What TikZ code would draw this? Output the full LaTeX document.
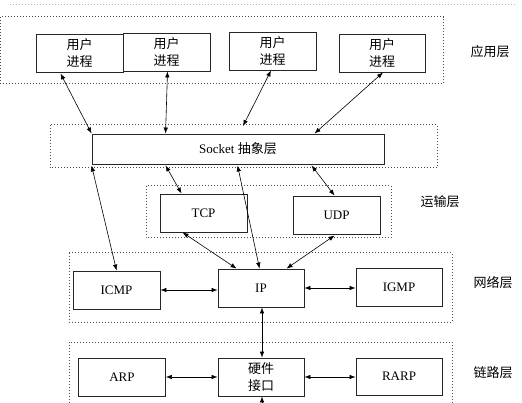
\documentclass[tikz,border=0pt]{standalone}
\usepackage{fontspec}
\setmainfont{Liberation Serif}
\newfontfamily\cjk{Noto Sans CJK SC}
\usetikzlibrary{arrows.meta,calc}
\tikzset{
  box/.style={draw=black!85,line width=0.9pt,rectangle,minimum width=87pt,minimum height=38pt,inner sep=0pt,align=center,font=\fontsize{13}{17}\selectfont},
  frame/.style={draw=black!70,line width=1pt,dash pattern=on 1pt off 2pt},
  conn/.style={line width=0.6pt,{Latex[length=6pt,width=4.5pt]}-{Latex[length=6pt,width=4.5pt]}},
  lbl/.style={font=\cjk\fontsize{13}{16}\selectfont,inner sep=0pt}
}
\begin{document}
\begin{tikzpicture}[x=1pt,y=-1pt]
\useasboundingbox (0,0) rectangle (522,403);
\fill[white] (0,0) rectangle (522,403);
\draw[gray!60,line width=0.6pt,dash pattern=on 1pt off 2pt] (10,4) -- (515,4);
% frames
\draw[frame] (0.5,17) rectangle (443,84);
\draw[frame] (50,125) rectangle (437,168);
\draw[frame] (146,186) rectangle (391,238);
\draw[frame] (69,253) rectangle (452,322);
\draw[frame] (69,342) rectangle (452,412);
% application layer
\node[box] (u1) at (79.5,53) {\cjk 用户\\\cjk 进程};
\node[box] (u2) at (166.5,52) {\cjk 用户\\\cjk 进程};
\node[box] (u3) at (272.5,51) {\cjk 用户\\\cjk 进程};
\node[box,minimum width=86pt] (u4) at (382,53) {\cjk 用户\\\cjk 进程};
\node[lbl] (lapp) at (490,52) {应用层};
% socket
\node[box,minimum width=292pt,minimum height=30pt] (sock) at (238,149) {Socket {\cjk 抽象层}};
% transport
\node[box] (tcp) at (203.5,213) {TCP};
\node[box] (udp) at (336.5,215) {UDP};
\node[lbl] (ltr) at (440,202) {运输层};
% network
\node[box] (icmp) at (116.5,290) {ICMP};
\node[box,minimum width=86pt] (ip) at (261,288) {IP};
\node[box,minimum width=86pt] (igmp) at (399,287) {IGMP};
\node[lbl] (lnet) at (493,283) {网络层};
% link
\node[box] (arp) at (122,377) {ARP};
\node[box,minimum width=86pt] (hw) at (261,377) {\cjk 硬件\\\cjk 接口};
\node[box,minimum width=86pt,minimum height=37pt] (rarp) at (399,376.5) {RARP};
\node[lbl] (llink) at (493,373) {链路层};
% connectors app -> socket
\draw[conn] ($(u1.south)+(-19,1)$) -- (sock.north west);
\draw[conn] ($(u2.south)+(1,0)$) -- ($(sock.north west)+(74,0)$);
\coordinate (s3) at (243,126);
\draw[conn] ($(u3.south)+(-1.5,0)$) -- (s3);
\draw[conn] ($(u4.south)+(1,0)$) -- ($(sock.north west)+(223,0)$);
% socket -> transport / network
\draw[conn] ($(sock.south west)+(74,1)$) -- ($(tcp.north west)+(22,0)$);
\draw[conn] ($(sock.south west)+(146,1)$) -- ($(ip.north west)+(42,0)$);
\draw[conn] ($(sock.south west)+(220,1)$) -- ($(udp.north west)+(42,0)$);
\draw[conn] ($(sock.south west)+(0,1)$) -- ($(icmp.north west)+(44,0)$);
% transport -> IP
\draw[conn] ($(tcp.south west)+(23,0)$) -- ($(ip.north west)+(19,0)$);
\draw[conn] ($(udp.south west)+(42,1)$) -- ($(ip.north west)+(69,0)$);
% network horizontals
\draw[conn] (icmp.east) -- (icmp.east -| ip.west);
\draw[conn] (ip.east) -- (ip.east -| igmp.west);
\draw[conn] ($(ip.south)+(1,0)$) -- ($(hw.north)+(1,0)$);
% link horizontals
\draw[conn] (arp.east) -- (arp.east -| hw.west);
\draw[conn] (hw.east) -- (hw.east -| rarp.west);
\coordinate (down) at (262,415);
\draw[line width=0.6pt,-{Latex[length=6pt,width=4.5pt]}] (down) -- ($(hw.south)+(1,0)$);
\end{tikzpicture}
\end{document}
